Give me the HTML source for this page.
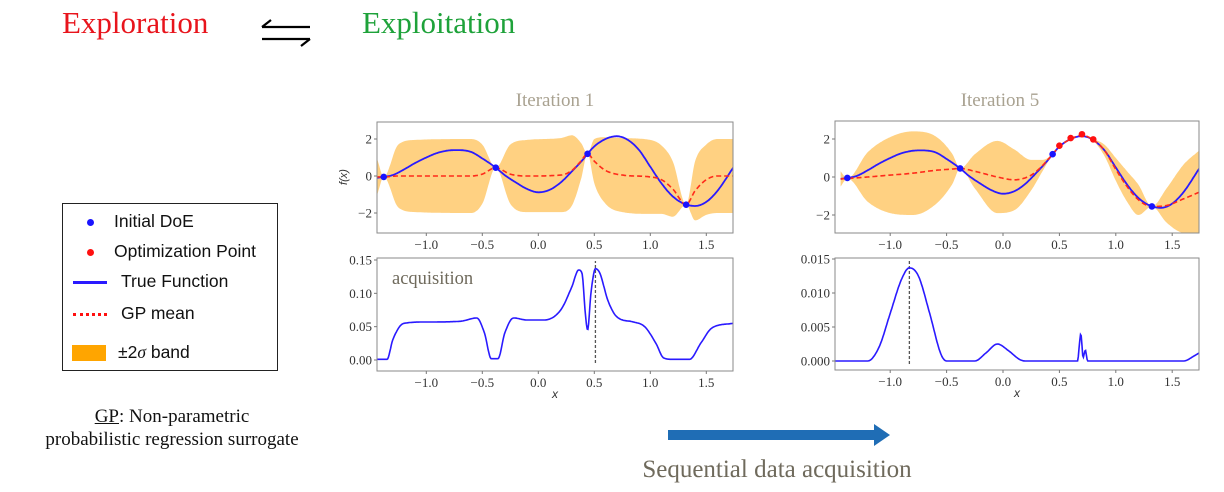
<!DOCTYPE html>
<html><head><meta charset="utf-8"><style>
body{margin:0;background:#fff;width:1224px;height:492px;overflow:hidden;position:relative;font-family:"Liberation Serif",serif}
.t{position:absolute;white-space:nowrap}
</style></head><body>
<div class="t" style="left:62px;top:5px;font-size:31px;color:#e8141c">Exploration</div>
<svg style="position:absolute;left:258px;top:18px" width="56" height="30">
<path d="M4 9 H52 M4 9 L13 2" stroke="#000" stroke-width="2.2" fill="none"/>
<path d="M4 21 H52 M52 21 L43 28" stroke="#000" stroke-width="2.2" fill="none"/></svg>
<div class="t" style="left:362px;top:5px;font-size:31px;color:#1ea23a">Exploitation</div>
<div class="t" style="left:555px;top:90px;transform:translateX(-50%);font-size:19px;color:#a9a291">Iteration 1</div>
<div class="t" style="left:1000px;top:90px;transform:translateX(-50%);font-size:19px;color:#a9a291">Iteration 5</div>

<div style="position:absolute;left:62px;top:203px;width:214px;height:166px;border:1.5px solid #222;font-family:'Liberation Sans',sans-serif;font-size:17.5px;color:#111">
<div style="position:absolute;left:24px;top:7px"><span style="display:inline-block;width:7px;height:7px;border-radius:50%;background:#1a14ff;margin-right:20px;vertical-align:middle"></span>Initial DoE</div>
<div style="position:absolute;left:24px;top:37px"><span style="display:inline-block;width:7px;height:7px;border-radius:50%;background:#ff1010;margin-right:20px;vertical-align:middle"></span>Optimization Point</div>
<div style="position:absolute;left:10px;top:67px"><span style="display:inline-block;width:34px;height:3px;background:#2a1aff;margin-right:14px;vertical-align:middle"></span>True Function</div>
<div style="position:absolute;left:10px;top:99px"><span style="display:inline-block;width:34px;border-top:3px dotted #ff1010;margin-right:14px;vertical-align:middle"></span>GP mean</div>
<div style="position:absolute;left:9px;top:138px"><span style="display:inline-block;width:34px;height:16px;background:#ffa500;margin-right:12px;vertical-align:middle"></span>±2<i style="font-family:'Liberation Serif',serif">σ</i> band</div>
</div>
<div class="t" style="left:172px;top:405px;transform:translateX(-50%);font-size:19px;text-align:center;line-height:23px;color:#111"><u>GP</u>: Non-parametric<br>probabilistic regression surrogate</div>

<svg style="position:absolute;left:0;top:0" width="1224" height="492" id="main">
<path d="M668 430 H874 V424 L890 435 L874 446 V440 H668 Z" fill="#1f6db5"/>
</svg>
<div class="t" style="left:777px;top:456px;transform:translateX(-50%);font-size:25px;color:#6f6a5c">Sequential data acquisition</div>

<script>
const trueX=[-1.44,-1.3,-1.2,-1.1,-1.0,-0.9,-0.8,-0.72,-0.6,-0.5,-0.38,-0.3,-0.2,-0.1,0,0.1,0.2,0.3,0.4,0.44,0.5,0.6,0.7,0.8,0.9,1.0,1.1,1.2,1.3,1.4,1.5,1.6,1.74];
const trueY=[-0.1,0.05,0.35,0.7,1.0,1.25,1.38,1.4,1.3,0.95,0.45,0.05,-0.35,-0.7,-0.88,-0.75,-0.35,0.25,0.9,1.2,1.6,2.0,2.15,1.95,1.4,0.5,-0.4,-1.1,-1.5,-1.62,-1.4,-0.8,0.45];
const gp1X=[-1.44,-1.38,-1.25,-1.1,-0.6,-0.5,-0.38,-0.25,-0.1,0.2,0.3,0.38,0.44,0.5,0.6,0.75,1.0,1.1,1.2,1.32,1.4,1.5,1.6,1.74];
const gp1Mean=[-0.05,-0.05,0,0,0,0.1,0.45,0.1,0,0.05,0.3,0.8,1.2,0.8,0.3,0.05,-0.05,-0.2,-0.7,-1.55,-0.8,-0.2,0,0];
const gp1Band=[1.0,0,1.7,1.95,2.0,1.6,0,1.6,1.95,2.0,1.9,1.0,0,1.2,1.8,2.0,2.0,1.85,1.5,0,1.6,1.9,2.0,2.0];
const gp5X=[-1.44,-1.38,-1.2,-1.0,-0.8,-0.6,-0.45,-0.38,-0.25,-0.05,0.1,0.25,0.35,0.44,0.5,0.6,0.7,0.8,0.9,1.0,1.1,1.2,1.32,1.45,1.6,1.74];
const gp5Mean=[-0.1,-0.08,0,0.1,0.2,0.35,0.42,0.45,0.3,0,-0.15,0.1,0.6,1.2,1.6,2.0,2.2,1.95,1.4,0.4,-0.5,-1.2,-1.55,-1.5,-1.15,-0.8];
const gp5Band=[0.4,0,1.3,2.0,2.2,1.8,0.8,0,0.9,1.9,1.6,0.8,0.3,0,0,0,0,0.05,0.3,0.6,0.8,0.8,0,0.9,1.8,2.2];
const doeX=[-1.38,-0.38,0.44,1.32];
const doeY=[-0.05,0.45,1.2,-1.55];
const optX=[0.5,0.6,0.7,0.8];
const optY=[1.65,2.05,2.25,1.98];
const acq1X=[-1.44,-1.35,-1.3,-1.2,-1.0,-0.7,-0.55,-0.48,-0.42,-0.36,-0.3,-0.22,-0.1,0.05,0.2,0.3,0.36,0.39,0.42,0.44,0.47,0.51,0.55,0.62,0.7,0.85,0.95,1.05,1.12,1.2,1.35,1.45,1.55,1.74];
const acq1Y=[0.001,0.001,0.03,0.055,0.057,0.058,0.063,0.04,0.002,0.002,0.04,0.063,0.06,0.06,0.075,0.11,0.135,0.13,0.07,0.045,0.1,0.137,0.13,0.09,0.065,0.057,0.05,0.025,0.003,0.001,0.001,0.025,0.048,0.055];
const acq5X=[-1.49,-1.2,-1.1,-1.0,-0.9,-0.83,-0.75,-0.65,-0.55,-0.5,-0.25,-0.15,-0.05,0.05,0.15,0.2,0.66,0.69,0.71,0.73,0.75,1.6,1.7,1.74];
const acq5Y=[0,0,0.002,0.007,0.012,0.0137,0.0125,0.007,0.001,0,0,0.0012,0.0025,0.0015,0.0002,0,0,0.004,0.0005,0.0016,0,0,0.0008,0.0012];
const xTicks=[-1.0,-0.5,0.0,0.5,1.0,1.5];
const fTicks=[2,0,-2];
const acq1Ticks=[0.15,0.10,0.05,0.00];
const acq5Ticks=[0.015,0.010,0.005,0.000];
const next1=0.51, next5=-0.83;

const NS='http://www.w3.org/2000/svg';
const svg=document.getElementById('main');
function el(tag,attrs,parent){const e=document.createElementNS(NS,tag);for(const k in attrs)e.setAttribute(k,attrs[k]);(parent||svg).appendChild(e);return e;}
// monotone cubic (Fritsch-Carlson) interpolation
function mono(xs,ys){const n=xs.length,d=[],m=[];
 for(let i=0;i<n-1;i++)d.push((ys[i+1]-ys[i])/(xs[i+1]-xs[i]));
 m[0]=d[0];m[n-1]=d[n-2];
 for(let i=1;i<n-1;i++){m[i]=(d[i-1]*d[i]<=0)?0:(d[i-1]+d[i])/2;}
 for(let i=0;i<n-1;i++){if(d[i]===0){m[i]=0;m[i+1]=0;continue;}const a=m[i]/d[i],b=m[i+1]/d[i],s=a*a+b*b;if(s>9){const t=3/Math.sqrt(s);m[i]=t*a*d[i];m[i+1]=t*b*d[i];}}
 return x=>{let i=0;while(i<n-2&&x>xs[i+1])i++;const h=xs[i+1]-xs[i],t=Math.min(1,Math.max(0,(x-xs[i])/h));
  const t2=t*t,t3=t2*t;return (2*t3-3*t2+1)*ys[i]+(t3-2*t2+t)*h*m[i]+(-2*t3+3*t2)*ys[i+1]+(t3-t2)*h*m[i+1];};}
function sample(xs,ys,P){const f=mono(xs,ys),pts=[],a=xs[0],b=xs[xs.length-1],N=500;
 for(let k=0;k<=N;k++){const x=a+(b-a)*k/N;pts.push([P.sx(x),P.sy(f(x))]);}return pts;}
function poly(pts){return 'M'+pts.map(p=>p[0].toFixed(1)+' '+p[1].toFixed(1)).join('L');}
let cid=0;
function panel(o){
 const sx=v=>o.x0+v*o.kx, sy=v=>o.y0-v*o.ky;
 const id='clip'+(cid++);
 const cp=el('clipPath',{id});el('rect',{x:o.l,y:o.t,width:o.r-o.l,height:o.b-o.t},cp);
 const g=el('g',{'clip-path':`url(#${id})`});
 
 
 return {sx,sy,g,o};
}
function frame(P,ticksY,fmt){
 const o=P.o;
 const fr=el('rect',{x:o.l,y:o.t,width:o.r-o.l,height:o.b-o.t,fill:'none',stroke:'#8a8a8a','stroke-width':1});
 
 
 xTicks.forEach(v=>{const x=P.sx(v);el('line',{x1:x,x2:x,y1:o.b,y2:o.b+3,stroke:'#777'});
  const t=el('text',{x:x,y:o.b+16,'text-anchor':'middle','font-size':13,fill:'#333','font-family':'Liberation Serif, serif'});t.textContent=(v<0?'−':'')+Math.abs(v).toFixed(1);
  
  });
 ticksY.forEach(v=>{const y=P.sy(v);el('line',{x1:o.l-3,x2:o.l,y1:y,y2:y,stroke:'#777'});
  const t=el('text',{x:o.l-5,y:y+4.5,'text-anchor':'end','font-size':13,fill:'#333','font-family':'Liberation Serif, serif'});t.textContent=fmt(v);
  
  });
}
function topPanel(o,gx,gm,gb,withOpt){
 const P=panel(o);
 const up=sample(gx,gx.map((x,i)=>gm[i]+gb[i]),P);
 const lo=sample(gx,gx.map((x,i)=>gm[i]-gb[i]),P).reverse();
 const band=el('path',{d:poly(up)+poly(lo).replace('M','L')+'Z',fill:'#ffd182'},P.g);
 
 
 const tl=el('path',{d:poly(sample(trueX,trueY,P)),fill:'none',stroke:'#2a1aff','stroke-width':1.8},P.g);
 
 
 const ml=el('path',{d:poly(sample(gx,gm,P)),fill:'none',stroke:'#ff2a1a','stroke-width':1.6,'stroke-dasharray':'5 3'},P.g);
 
 
 doeX.forEach((x,i)=>{const c=el('circle',{cx:P.sx(x),cy:P.sy(doeY[i]),r:3.3,fill:'#1a14ff'},P.g);
  
  });
 if(withOpt)optX.forEach((x,i)=>{const c=el('circle',{cx:P.sx(x),cy:P.sy(optY[i]),r:3.3,fill:'#ff1010'},P.g);
  
  });
 frame(P,fTicks,v=>(v<0?'−':'')+Math.abs(v));
 return P;
}
function acqPanel(o,ax,ay,nx,ticks,dec){
 const P=panel(o);
 const dl=el('line',{x1:P.sx(nx),x2:P.sx(nx),y1:P.sy(0)+3,y2:o.t+3,stroke:'#555','stroke-width':1.3,'stroke-dasharray':'3 2'},P.g);
 
 
 const al=el('path',{d:poly(sample(ax,ay,P)),fill:'none',stroke:'#2a1aff','stroke-width':1.6},P.g);
 
 
 frame(P,ticks,v=>v.toFixed(dec));
 const xl=el('text',{x:(o.l+o.r)/2,y:o.b+27,'text-anchor':'middle','font-size':12,'font-style':'italic',fill:'#333','font-family':'Liberation Sans, sans-serif'});xl.textContent='x';
 
 
 return P;
}
topPanel({name:'iter1-gp',l:377,r:733,t:122,b:233,x0:538.3,kx:112,y0:176,ky:18.5},gp1X,gp1Mean,gp1Band,false);
topPanel({name:'iter5-gp',l:835,r:1199,t:121,b:233,x0:1003,kx:112.8,y0:177,ky:19},gp5X,gp5Mean,gp5Band,true);
acqPanel({name:'iter1-acq',l:377,r:733,t:258,b:371,x0:538.3,kx:112,y0:360,ky:666.7},acq1X,acq1Y,next1,acq1Ticks,2);
acqPanel({name:'iter5-acq',l:835,r:1199,t:258,b:370,x0:1003,kx:112.8,y0:361,ky:6800},acq5X,acq5Y,next5,acq5Ticks,3);
const fl=el('text',{x:0,y:0,transform:'translate(347,177) rotate(-90)','text-anchor':'middle','font-size':11,'font-style':'italic',fill:'#333','font-family':'Liberation Sans, sans-serif'});fl.textContent='f(x)';


const aq=el('text',{x:392,y:284,'font-size':18.5,fill:'#6f6a5c','font-family':'Liberation Serif, serif'});aq.textContent='acquisition';


</script>
</body></html>
